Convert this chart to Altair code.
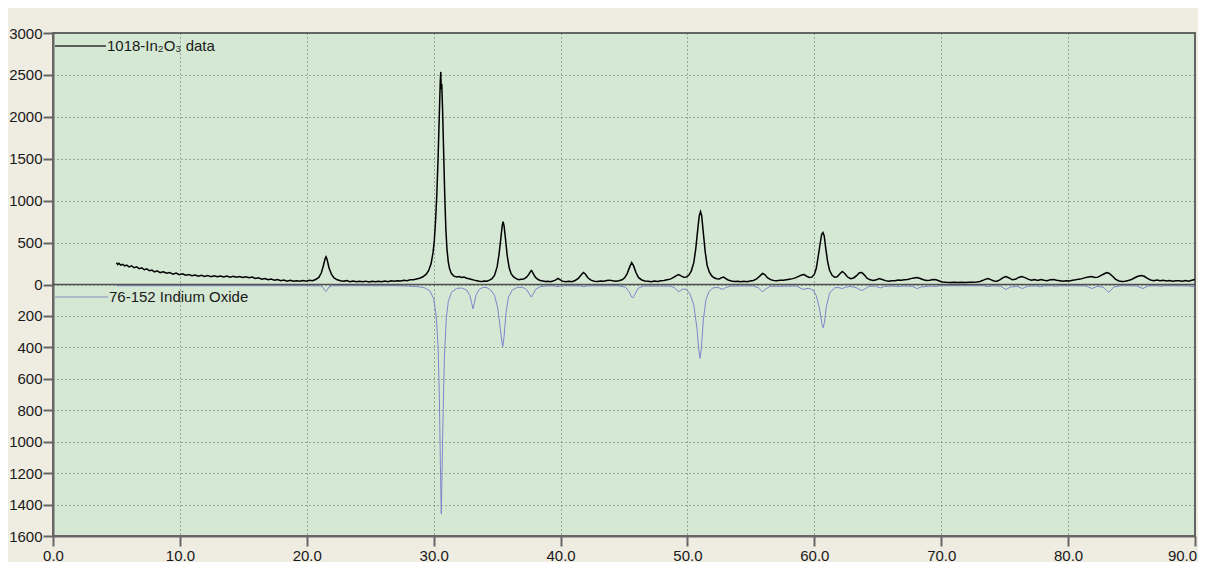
import altair as alt
import pandas as pd

data_two_theta = [
    5.0, 5.1, 5.2, 5.35, 5.5, 5.65, 5.8, 6.0, 6.2, 6.4,
    6.6, 6.8, 7.0, 7.2, 7.4, 7.6, 7.8, 8.0, 8.2, 8.45,
    8.7, 8.95, 9.2, 9.45, 9.7, 9.95, 10.2, 10.45, 10.7, 10.95,
    11.2, 11.45, 11.7, 11.95, 12.2, 12.45, 12.7, 12.95, 13.2, 13.45,
    13.7, 13.95, 14.2, 14.45, 14.7, 14.95, 15.2, 15.45, 15.7, 15.95,
    16.2, 16.45, 16.7, 16.95, 17.2, 17.45, 17.7, 17.95, 18.2, 18.45,
    18.7, 18.95, 19.2, 19.45, 19.7, 19.95, 20.2, 20.45, 20.7, 20.95,
    21.15, 21.3, 21.45, 21.52, 21.6, 21.75, 21.95, 22.15, 22.4, 22.65,
    22.9, 23.15, 23.4, 23.65, 23.9, 24.15, 24.4, 24.65, 24.9, 25.15,
    25.4, 25.65, 25.9, 26.15, 26.4, 26.65, 26.9, 27.15, 27.4, 27.65,
    27.9, 28.15, 28.4, 28.65, 28.9, 29.15, 29.4, 29.6, 29.8, 29.95,
    30.05, 30.15, 30.25, 30.35, 30.45, 30.52, 30.56, 30.6, 30.64, 30.7,
    30.78, 30.87, 30.96, 31.05, 31.15, 31.25, 31.4, 31.6, 31.8, 32.0,
    32.2, 32.4, 32.6, 32.8, 33.0, 33.2, 33.4, 33.6, 33.8, 34.0,
    34.2, 34.4, 34.6, 34.8, 35.0, 35.15, 35.3, 35.4, 35.47, 35.55,
    35.65, 35.8, 35.95, 36.1, 36.3, 36.5, 36.7, 36.9, 37.1, 37.3,
    37.5, 37.65, 37.72, 37.85, 38.0, 38.2, 38.4, 38.6, 38.8, 39.0,
    39.2, 39.4, 39.6, 39.8, 39.95, 40.15, 40.4, 40.65, 40.9, 41.15,
    41.4, 41.6, 41.8, 41.95, 42.15, 42.4, 42.65, 42.9, 43.15, 43.4,
    43.65, 43.85, 44.1, 44.35, 44.6, 44.85, 45.05, 45.25, 45.45, 45.6,
    45.75, 45.95, 46.15, 46.4, 46.65, 46.9, 47.15, 47.4, 47.65, 47.9,
    48.15, 48.4, 48.65, 48.9, 49.1, 49.3, 49.5, 49.7, 49.9, 50.1,
    50.3, 50.5, 50.65, 50.8, 50.93, 51.03, 51.12, 51.25, 51.4, 51.55,
    51.72, 51.9, 52.1, 52.3, 52.5, 52.7, 52.85, 53.0, 53.2, 53.45,
    53.7, 53.95, 54.2, 54.45, 54.7, 54.95, 55.2, 55.45, 55.7, 55.92,
    56.1, 56.3, 56.55, 56.8, 57.05, 57.3, 57.55, 57.8, 58.05, 58.3,
    58.55, 58.8, 59.05, 59.2, 59.4, 59.6, 59.8, 60.0, 60.15, 60.3,
    60.45, 60.58, 60.68, 60.78, 60.9, 61.05, 61.2, 61.4, 61.6, 61.8,
    62.0, 62.2, 62.4, 62.6, 62.85, 63.1, 63.35, 63.55, 63.75, 63.95,
    64.15, 64.4, 64.65, 64.9, 65.1, 65.35, 65.6, 65.85, 66.1, 66.35,
    66.6, 66.85, 67.1, 67.35, 67.6, 67.85, 68.1, 68.35, 68.6, 68.85,
    69.1, 69.35, 69.6, 69.85, 70.1, 70.4, 70.7, 71.0, 71.3, 71.6,
    71.9, 72.2, 72.5, 72.8, 73.05, 73.3, 73.5, 73.7, 73.9, 74.15,
    74.4, 74.65, 74.9, 75.1, 75.35, 75.6, 75.85, 76.1, 76.35, 76.6,
    76.85, 77.1, 77.35, 77.6, 77.85, 78.1, 78.35, 78.6, 78.85, 79.1,
    79.35, 79.6, 79.85, 80.1, 80.35, 80.6, 80.85, 81.1, 81.35, 81.6,
    81.85, 82.1, 82.35, 82.6, 82.85, 83.05, 83.25, 83.5, 83.75, 84.0,
    84.25, 84.5, 84.75, 85.0, 85.25, 85.5, 85.75, 86.0, 86.25, 86.5,
    86.75, 87.0, 87.25, 87.5, 87.75, 88.0, 88.25, 88.5, 88.75, 89.0,
    89.25, 89.5, 89.75, 90.0,
]
data_counts = [
    262, 238, 252, 230, 240, 222, 232, 210, 222, 200,
    210, 188, 198, 176, 186, 164, 172, 150, 162, 142,
    152, 134, 144, 124, 136, 116, 128, 110, 120, 104,
    114, 100, 110, 96, 106, 94, 104, 92, 102, 90,
    100, 88, 98, 86, 96, 84, 92, 80, 88, 72,
    80, 64, 72, 56, 64, 50, 58, 44, 52, 40,
    50, 38, 46, 38, 48, 40, 50, 46, 60, 85,
    140, 220, 310, 330, 300, 200, 120, 78, 56, 44,
    38, 46, 34, 42, 32, 40, 32, 40, 30, 38,
    32, 40, 34, 42, 34, 44, 38, 46, 42, 50,
    46, 56, 56, 66, 74, 92, 120, 165, 250, 380,
    520, 760, 1080, 1520, 2050, 2420, 2536, 2330, 2390, 2100,
    1620, 1080, 660, 420, 270, 190, 130, 100, 90, 96,
    84, 88, 74, 68, 60, 52, 46, 40, 36, 42,
    40, 52, 70, 110, 210, 360, 560, 700, 750, 700,
    560, 340, 200, 130, 90, 70, 58, 62, 66, 84,
    120, 160, 167, 130, 90, 62, 48, 42, 36, 40,
    34, 42, 52, 72, 58, 40, 32, 38, 34, 48,
    72, 110, 143, 125, 80, 52, 40, 36, 42, 38,
    48, 52, 44, 38, 44, 56, 80, 130, 210, 262,
    225, 140, 82, 54, 42, 38, 34, 42, 36, 44,
    48, 56, 64, 84, 104, 119, 102, 86, 88, 110,
    160, 260, 420, 640, 820, 869, 820, 620, 390, 230,
    150, 105, 80, 68, 66, 82, 88, 74, 54, 42,
    36, 40, 34, 38, 34, 42, 48, 66, 100, 131,
    118, 82, 58, 48, 44, 50, 52, 58, 64, 70,
    82, 100, 116, 119, 98, 84, 88, 120, 190, 330,
    480, 600, 620, 580, 430, 270, 170, 110, 86, 92,
    125, 155, 132, 92, 70, 78, 108, 140, 143, 112,
    76, 56, 48, 56, 71, 60, 46, 40, 46, 44,
    54, 50, 56, 60, 70, 78, 83, 72, 56, 48,
    52, 60, 56, 42, 30, 26, 24, 28, 24, 26,
    24, 28, 26, 30, 36, 50, 64, 71, 58, 42,
    40, 58, 84, 95, 78, 56, 62, 84, 95, 82,
    64, 52, 58, 48, 60, 52, 46, 56, 60, 50,
    44, 38, 46, 42, 50, 56, 64, 70, 82, 90,
    95, 84, 88, 108, 128, 143, 132, 98, 62, 42,
    36, 38, 48, 60, 80, 98, 107, 98, 72, 54,
    46, 54, 44, 50, 42, 48, 40, 46, 44, 40,
    48, 38, 50, 60,
]

# Reference pattern 76-152 Indium Oxide (drawn downward)
ref_two_theta = [
    5.0, 20.0, 21.1, 21.3, 21.45, 21.5, 21.6, 21.75, 22.0, 27.0,
    28.0, 28.8, 29.3, 29.7, 30.0, 30.2, 30.35, 30.45, 30.53, 30.6,
    30.66, 30.75, 30.85, 31.0, 31.15, 31.4, 31.8, 32.2, 32.6, 32.85,
    33.0, 33.1, 33.2, 33.35, 33.6, 33.9, 34.2, 34.5, 34.8, 35.05,
    35.25, 35.4, 35.45, 35.55, 35.7, 35.9, 36.2, 36.6, 37.0, 37.3,
    37.5, 37.7, 37.85, 38.05, 38.4, 39.0, 39.6, 39.8, 40.0, 40.5,
    41.6, 41.85, 42.1, 44.5, 45.1, 45.4, 45.6, 45.7, 45.85, 46.1,
    46.5, 48.7, 49.0, 49.25, 49.35, 49.6, 49.9, 50.2, 50.5, 50.75,
    50.9, 51.0, 51.1, 51.25, 51.45, 51.7, 52.0, 52.4, 52.65, 52.8,
    53.0, 53.4, 55.2, 55.6, 55.85, 55.95, 56.15, 56.5, 58.6, 58.95,
    59.15, 59.35, 59.6, 59.9, 60.15, 60.4, 60.6, 60.7, 60.8, 60.95,
    61.2, 61.6, 61.95, 62.2, 62.45, 62.8, 63.3, 63.6, 63.75, 63.95,
    64.3, 64.8, 65.2, 65.5, 66.3, 66.6, 66.9, 67.7, 68.1, 68.4,
    69.2, 69.5, 69.9, 73.3, 73.7, 74.1, 74.7, 75.1, 75.45, 76.0,
    76.4, 76.8, 77.5, 77.8, 78.1, 78.7, 79.0, 79.3, 81.4, 81.9,
    82.3, 82.8, 83.2, 83.6, 84.2, 85.4, 85.9, 86.3, 87.0, 87.3,
    87.6, 89.5, 90.0,
]
ref_intensity = [
    8, 8, 9, 20, 40, 45, 36, 16, 8, 8,
    10, 14, 22, 40, 90, 200, 400, 720, 1150, 1460,
    1200, 800, 450, 210, 110, 50, 25, 22, 35, 70,
    120, 155, 120, 65, 30, 18, 20, 35, 70, 150,
    280, 380, 395, 330, 180, 80, 35, 18, 18, 30,
    55, 80, 60, 30, 14, 8, 10, 14, 10, 8,
    9, 14, 9, 8, 16, 45, 80, 85, 65, 25,
    10, 10, 22, 42, 45, 30, 30, 60, 130, 280,
    420, 470, 400, 230, 100, 45, 22, 18, 28, 30,
    20, 10, 9, 22, 42, 45, 30, 12, 10, 25,
    32, 26, 25, 35, 70, 150, 250, 275, 240, 140,
    55, 20, 20, 26, 18, 12, 20, 34, 38, 30,
    12, 10, 22, 12, 10, 14, 10, 11, 26, 16,
    10, 13, 8, 8, 13, 8, 12, 32, 16, 12,
    26, 11, 9, 15, 9, 8, 12, 8, 9, 26,
    11, 18, 51, 16, 8, 9, 26, 9, 8, 11,
    8, 9, 15,
]

x_ticks = [0, 10, 20, 30, 40, 50, 60, 70, 80, 90]
y_ticks_up = [0, 500, 1000, 1500, 2000, 2500, 3000]
y_ticks_down = [200, 400, 600, 800, 1000, 1200, 1400, 1600]
legend_labels = ["1018-In\u2082O\u2083 data", "76-152 Indium Oxide"]

assert len(data_two_theta) == len(data_counts)
assert len(ref_two_theta) == len(ref_intensity)

# lower half of the plot uses its own scale: 1600 at bottom vs 3000 at top
DOWN = 3000 / 1600

df_data = pd.DataFrame({"two_theta": data_two_theta, "y": data_counts})
df_ref = pd.DataFrame({"two_theta": ref_two_theta,
                       "y": [-v * DOWN for v in ref_intensity]})

y_values = y_ticks_up + [-v * DOWN for v in y_ticks_down]

FONT = "Liberation Sans"

x_enc = alt.X("two_theta:Q",
              scale=alt.Scale(domain=[0, 90], nice=False, zero=False),
              axis=alt.Axis(values=x_ticks, format=".1f", title=None,
                            labelPadding=2, gridDash=[1, 3], labelFlush=False,
                            labelOffset={"condition": {"test": "datum.value == 90", "value": -13},
                                         "value": 0}))
y_enc = alt.Y("y:Q",
              scale=alt.Scale(domain=[-3000, 3000], nice=False),
              axis=alt.Axis(values=y_values, title=None, labelPadding=1,
                            labelExpr="datum.value >= 0 ? format(datum.value, 'd') : format(round(-datum.value / %.6f), 'd')" % DOWN,
                            gridDash=[1, 3]))

ref_line = alt.Chart(df_ref).mark_line(color="#7c86cc", strokeWidth=1).encode(
    x=x_enc, y=y_enc, order="two_theta:Q")

zero_rule = alt.Chart(pd.DataFrame({"y": [0]})).mark_rule(
    color="#505050", strokeWidth=1.5).encode(y=y_enc)

data_line = alt.Chart(df_data).mark_line(color="#000000", strokeWidth=1.5).encode(
    x=x_enc, y=y_enc, order="two_theta:Q")

leg_df1 = pd.DataFrame({"label": [legend_labels[0]]})
leg_df2 = pd.DataFrame({"label": [legend_labels[1]]})

leg_line1 = alt.Chart(leg_df1).mark_rule(color="#333333", strokeWidth=1.3).encode(
    x=alt.value(2), x2=alt.value(53), y=alt.value(13))
leg_text1 = alt.Chart(leg_df1).mark_text(
    align="left", baseline="middle", font=FONT, fontSize=15, color="#1a1a1a").encode(
    x=alt.value(54), y=alt.value(13), text="label:N")
leg_line2 = alt.Chart(leg_df2).mark_rule(color="#a3abc8", strokeWidth=1.3).encode(
    x=alt.value(2), x2=alt.value(55), y=alt.value(264))
leg_text2 = alt.Chart(leg_df2).mark_text(
    align="left", baseline="middle", font=FONT, fontSize=15, color="#1a1a1a").encode(
    x=alt.value(56), y=alt.value(264), text="label:N")

chart = alt.layer(
    ref_line, zero_rule, data_line, leg_line1, leg_text1, leg_line2, leg_text2
).properties(
    width=1142,
    height=503,
    autosize=alt.AutoSizeParams(type="none"),
    padding={"left": 45, "top": 25, "right": 3, "bottom": 26},
    background="#efece1",
).configure_view(
    fill="#d4e8d4", stroke="#666666", strokeWidth=2
).configure_axis(
    domainColor="#666666", domainWidth=2,
    tickColor="#666666", tickWidth=2, tickSize=10,
    labelFont=FONT, labelFontSize=15, labelColor="#1a1a1a",
    gridColor="#555555", gridWidth=1, gridOpacity=0.9,
)

chart.save("out.html", embed_options={"renderer": "svg", "actions": False})
